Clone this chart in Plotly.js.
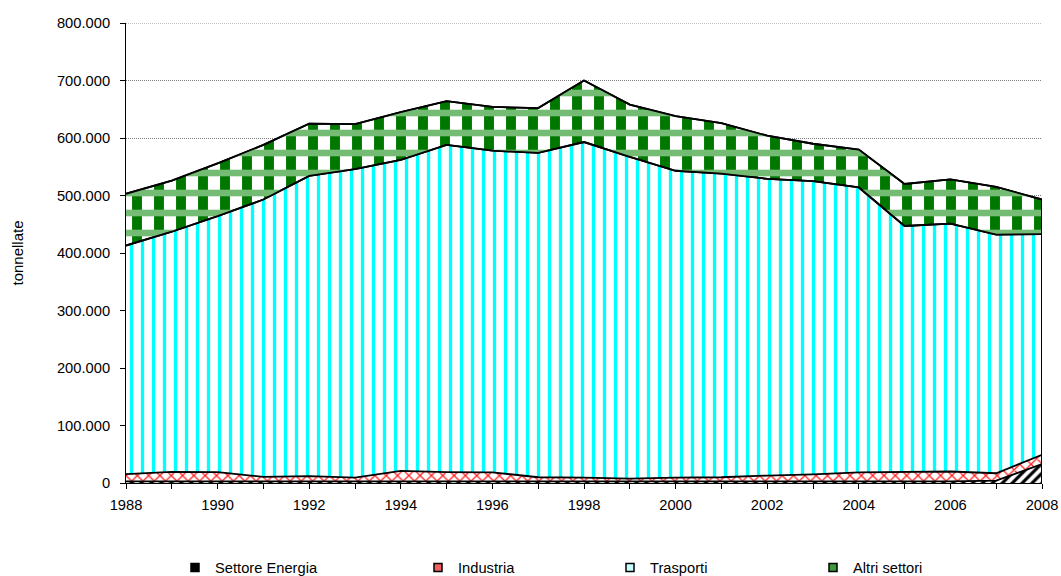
<!DOCTYPE html>
<html>
<head>
<meta charset="utf-8">
<script src="https://cdn.plot.ly/plotly-3.0.1.min.js"></script>
<style>html,body{margin:0;padding:0;background:#fff;}#chart{width:1061px;height:576px;}</style>
</head>
<body>
<div id="chart"></div>
<script>
// Data (tonnellate)
const years = [1988,1989,1990,1991,1992,1993,1994,1995,1996,1997,1998,1999,2000,2001,2002,2003,2004,2005,2006,2007,2008];
const settoreEnergia = [3000,3000,3000,3000,3000,3000,3000,3000,3000,3000,3000,2000,2000,2000,2000,2000,3000,3000,3000,4000,33000];
const industria = [12500,16500,16000,7500,9000,6500,18000,16000,15500,7000,6500,5500,7500,8000,11000,13000,15500,16000,17000,13000,16000];
const trasporti = [397500,417500,445000,482500,522000,536500,541000,569000,559500,564000,583500,559500,533500,528000,516000,510000,495500,428000,431000,415000,384000];
const altriSettori = [90000,89000,92000,95000,91000,78000,83000,76000,76000,78000,107000,91000,95000,88000,75000,65000,66000,73000,77000,83000,60000];
const seriesNames = ["Settore Energia","Industria","Trasporti","Altri settori"];
const yMax = 800000;

// cumulative stacks
const cum = [];
let run = years.map(() => 0);
[settoreEnergia, industria, trasporti, altriSettori].forEach(s => {
  run = run.map((v, i) => v + s[i]);
  cum.push(run.slice());
});
const last = years.length - 1;

const FONT = "Liberation Sans, Arial, sans-serif";
const FS = 14.7;
const lineStyle = {color: "#000", width: 1.8};

const traces = [
  {x: years, y: cum[0], mode: "lines", line: lineStyle, fill: "tozeroy",
   fillcolor: "#fff", fillpattern: {shape: "/", fgcolor: "#000", bgcolor: "#fff", size: 7, solidity: 0.45},
   showlegend: false, hoverinfo: "skip"},
  {x: years, y: cum[1], mode: "lines", line: lineStyle, fill: "tonexty",
   fillcolor: "#fff", fillpattern: {shape: "x", fgcolor: "#ff2020", bgcolor: "#fff", size: 8, solidity: 0.3},
   showlegend: false, hoverinfo: "skip"},
  {x: years, y: cum[2], mode: "lines", line: lineStyle, fill: "tonexty",
   fillcolor: "#fff", fillpattern: {shape: "|", fgcolor: "#00ffff", bgcolor: "#fff", size: 11, solidity: 0.3},
   showlegend: false, hoverinfo: "skip"},
  {x: years, y: cum[3], mode: "lines", line: lineStyle, fill: "tonexty",
   fillcolor: "#fff", fillpattern: {shape: "|", fgcolor: "#007800", bgcolor: "#fff", size: 22, solidity: 0.45},
   showlegend: false, hoverinfo: "skip"},
  // overlay bands for the plaid look of "Altri settori"
  {x: years, y: cum[2], mode: "lines", line: lineStyle, showlegend: false, hoverinfo: "skip"},
  {x: years, y: cum[3], mode: "lines", line: lineStyle, fill: "tonexty",
   fillcolor: "rgba(0,0,0,0)", fillpattern: {shape: "-", fgcolor: "#74bb74", bgcolor: "rgba(0,0,0,0)", size: 20, solidity: 0.33},
   showlegend: false, hoverinfo: "skip"},
  // right edge outline of the stacked area
  {x: [years[last], years[last]], y: [0, cum[3][last]], mode: "lines", line: {color: "#000", width: 2},
   showlegend: false, hoverinfo: "skip"}
];

// legend entries
const legendColors = ["#000000", "#f06060", "#c8ffff", "#3c9a3c"];
const legendIds = ["legend", "legend2", "legend3", "legend4"];
seriesNames.forEach((n, i) => {
  traces.push({x: [null], y: [null], mode: "markers", name: n, legend: legendIds[i],
    marker: {symbol: "square", size: 8, color: legendColors[i], line: {color: "#000", width: 1.5}},
    hoverinfo: "skip"});
});

const legendX = [175, 418, 610, 813].map(p => p / 1061);
const layout = {
  width: 1061, height: 576,
  margin: {l: 126, r: 19, t: 23, b: 93, pad: 0, autoexpand: false},
  paper_bgcolor: "#fff", plot_bgcolor: "#fff",
  separators: ",.",
  font: {family: FONT, size: FS, color: "#000"},
  xaxis: {
    range: [years[0], years[last]], dtick: 2, tick0: 1988,
    ticks: "outside", ticklen: 5, tickcolor: "#000", tickwidth: 1,
    minor: {dtick: 1, ticks: "outside", ticklen: 5, tickcolor: "#000", tickwidth: 1, showgrid: false},
    showgrid: false, zeroline: false, showline: true, linecolor: "#000", linewidth: 1,
    tickfont: {family: FONT, size: FS, color: "#000"}, ticklabelstandoff: 3
  },
  yaxis: {
    range: [0, yMax], dtick: 100000, tickformat: ",d",
    ticks: "outside", ticklen: 5, tickcolor: "#000", tickwidth: 1,
    showgrid: true, gridcolor: "#808080", griddash: "1px,1px", gridwidth: 1,
    zeroline: false, showline: true, linecolor: "#000", linewidth: 1,
    tickfont: {family: FONT, size: FS, color: "#000"}, ticklabelstandoff: 7,
    title: {text: "tonnellate", font: {family: FONT, size: 15, color: "#000"}, standoff: 29}
  },
  shapes: [
    {type: "line", xref: "paper", x0: 0, x1: 1, yref: "y", y0: yMax, y1: yMax,
     line: {color: "#808080", width: 1, dash: "1px,1px"}, layer: "below"}
  ],
  showlegend: true
};
legendIds.forEach((id, i) => {
  layout[id] = {orientation: "h", xref: "container", yref: "container", x: legendX[i], xanchor: "left",
    y: 1 - 568 / 576, yanchor: "middle",
    font: {family: FONT, size: FS, color: "#000"}, bgcolor: "rgba(0,0,0,0)", borderwidth: 0, itemwidth: 30};
});

Plotly.newPlot("chart", traces, layout, {displayModeBar: false, staticPlot: true});
</script>
</body>
</html>
